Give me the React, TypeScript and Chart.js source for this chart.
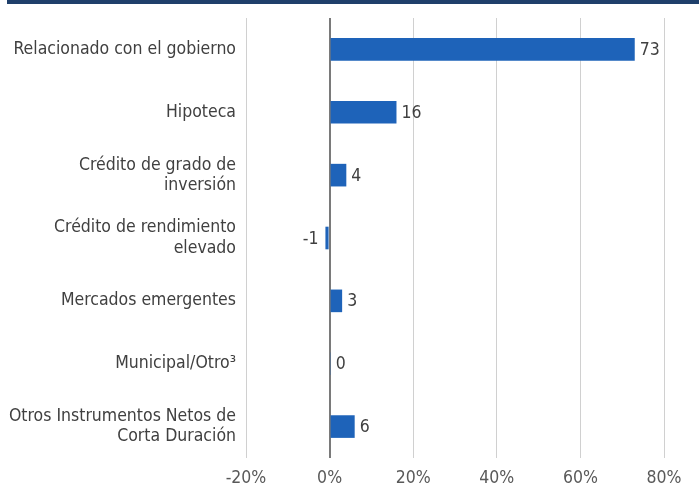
import React, { useEffect, useRef } from "react";
import { Chart, registerables } from "chart.js";

Chart.register(...registerables);

const categories: (string | string[])[] = [
  "Relacionado con el gobierno",
  "Hipoteca",
  ["Crédito de grado de", "inversión"],
  ["Crédito de rendimiento", "elevado"],
  "Mercados emergentes",
  "Municipal/Otro³",
  ["Otros Instrumentos Netos de", "Corta Duración"],
];
const values: number[] = [73, 16, 4, -1, 3, 0.3, 6];
const valueLabels: string[] = ["73", "16", "4", "-1", "3", "0", "6"];
const xTicks: number[] = [-20, 0, 20, 40, 60, 80];

const FONT = "'DejaVu Sans Condensed', 'Open Sans', sans-serif";

export default function App() {
  const ref = useRef<HTMLCanvasElement | null>(null);
  useEffect(() => {
    if (!ref.current) return;
    const topBand = {
      id: "topBand",
      beforeDraw(chart: any) {
        const ctx = chart.ctx;
        ctx.save();
        ctx.fillStyle = "#1f3f6b";
        ctx.fillRect(7, 0, chart.width - 7, 4);
        ctx.restore();
      },
    };
    const dataLabels = {
      id: "dataLabels",
      afterDatasetsDraw(chart: any) {
        const ctx = chart.ctx;
        const meta = chart.getDatasetMeta(0);
        ctx.save();
        ctx.font = `17.5px ${FONT}`;
        ctx.fillStyle = "#404040";
        ctx.textBaseline = "middle";
        meta.data.forEach((bar: any, i: number) => {
          const v = values[i];
          const t = valueLabels[i];
          if (v < 0) {
            ctx.textAlign = "right";
            ctx.fillText(t, bar.x - 7, bar.y + 1);
          } else {
            ctx.textAlign = "left";
            ctx.fillText(t, bar.x + 5, bar.y + 1);
          }
        });
        ctx.restore();
      },
    };
    const chart = new Chart(ref.current, {
      type: "bar",
      data: {
        labels: categories,
        datasets: [
          {
            data: values,
            backgroundColor: "#1e63b9",
            barPercentage: 0.36,
            categoryPercentage: 1,
          },
        ],
      },
      options: {
        indexAxis: "y",
        animation: false,
        responsive: false,
        maintainAspectRatio: false,
        layout: { padding: { top: 18, right: 35, bottom: 0, left: 0 } },
        plugins: { legend: { display: false }, tooltip: { enabled: false } },
        scales: {
          x: {
            min: -20,
            max: 80,
            afterBuildTicks(scale: any) {
              scale.ticks = xTicks.map((v) => ({ value: v }));
            },
            afterFit(scale: any) {
              scale.height = 32;
            },
            border: { display: false },
            grid: {
              drawTicks: false,
              color: (c: any) => (c.tick && c.tick.value === 0 ? "#7a7a7a" : "#d0d0d0"),
              lineWidth: (c: any) => (c.tick && c.tick.value === 0 ? 2 : 1),
            },
            ticks: {
              padding: 10,
              color: "#595959",
              font: { family: FONT, size: 17.5 },
              callback: (v: any) => `${v}%`,
            },
          },
          y: {
            afterFit(scale: any) {
              scale.width = 246;
              scale.paddingTop = 0;
              scale.paddingBottom = 0;
            },
            border: { display: false },
            grid: { display: false, drawTicks: false },
            ticks: {
              padding: 10,
              color: "#404040",
              font: { family: FONT, size: 17.5, lineHeight: 1.15 },
            },
          },
        },
      },
      plugins: [topBand, dataLabels],
    });
    return () => chart.destroy();
  }, []);
  return (
    <div style={{ position: "fixed", left: 0, top: 0, width: 699, height: 490, background: "#fff" }}>
      <canvas ref={ref} width={699} height={490} style={{ display: "block" }} />
    </div>
  );
}
